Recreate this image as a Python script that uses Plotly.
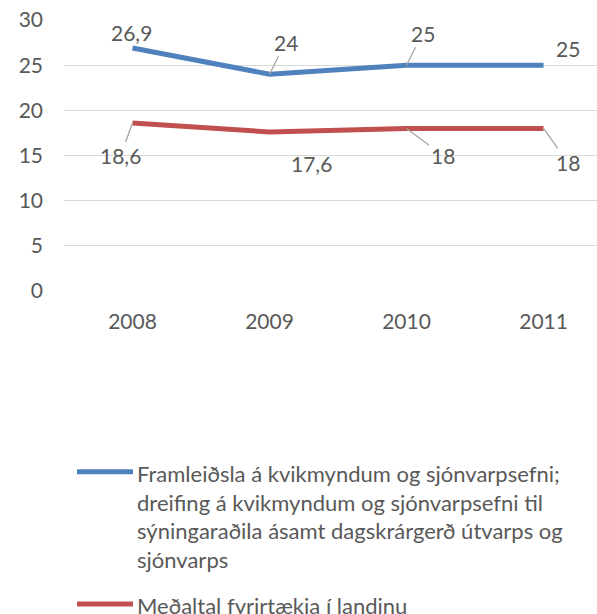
import plotly.graph_objects as go

years = ["2008", "2009", "2010", "2011"]
film_tv = [26.9, 24, 25, 25]
national_avg = [18.6, 17.6, 18, 18]
series_names = [
    "Framleiðsla á kvikmyndum og sjónvarpsefni;<br>dreifing á kvikmyndum og sjónvarpsefni til<br>sýningaraðila ásamt dagskrárgerð útvarps og<br>sjónvarps",
    "Meðaltal fyrirtækja í landinu",
]
y_ticks = [0, 5, 10, 15, 20, 25, 30]

BLUE = "#4F81BD"
RED = "#C0504D"
TEXT = "#595959"
FONT = "Lato"
FS = 21

# label offsets in px (dx, dy screen), leader line on/off
blue_offsets = [(-1, -16, False), (16, -32, True), (16, -32, True), (24, -17, False)]
red_offsets = [(-12, 33, True), (42, 31, False), (36, 27, True), (24, 34, True)]


def fmt(v):
    return f"{v:g}".replace(".", ",")


fig = go.Figure()
fig.add_scatter(x=years, y=film_tv, mode="lines", line=dict(color=BLUE, width=5), showlegend=False)
fig.add_scatter(x=years, y=national_avg, mode="lines", line=dict(color=RED, width=5), showlegend=False)

annotations = []
for vals, offs in [(film_tv, blue_offsets), (national_avg, red_offsets)]:
    for i, (v, (dx, dy, lead)) in enumerate(zip(vals, offs)):
        # category axis: annotation x is the category index
        a = dict(x=i, y=v, xref="x", yref="y", text=fmt(v), font=dict(family=FONT, size=FS, color=TEXT))
        if lead:
            a.update(showarrow=True, ax=dx, ay=dy, arrowhead=0, arrowwidth=1.3, arrowcolor="#A6A6A6", standoff=0)
        else:
            a.update(showarrow=False, xshift=dx, yshift=-dy)
        annotations.append(a)

# manual legend
to_px_x = lambda px: (px - 64) / 533
to_px_y = lambda py: (291.5 - py) / 271.5
shapes = []
for name, color, py in [(series_names[0], BLUE, 472.5), (series_names[1], RED, 605)]:
    shapes.append(dict(type="line", xref="paper", yref="paper", x0=to_px_x(77), x1=to_px_x(133),
                       y0=to_px_y(py), y1=to_px_y(py), line=dict(color=color, width=5)))
    annotations.append(dict(xref="paper", yref="paper", x=to_px_x(135), y=to_px_y(py - 14), xanchor="left",
                            yanchor="top", align="left", showarrow=False, text=name,
                            font=dict(family=FONT, size=22, color=TEXT)))

fig.update_layout(
    width=597, height=614,
    margin=dict(l=64, r=0, t=20, b=322.5),
    paper_bgcolor="white", plot_bgcolor="white",
    font=dict(family=FONT, size=FS, color=TEXT),
    annotations=annotations, shapes=shapes,
    showlegend=False,
)
fig.update_xaxes(type="category", range=[-0.5, 3.39], showgrid=False, showline=False, zeroline=False,
                 ticks="", ticklabelstandoff=16)
fig.update_yaxes(range=[0, 30], tickvals=y_ticks, showgrid=True, gridcolor="#D9D9D9", gridwidth=1.3,
                 zeroline=False, showline=False, ticks="", ticklabelstandoff=20)

fig.write_html("out.html", config={"displayModeBar": False},
               post_script="document.body.style.margin='0';")
